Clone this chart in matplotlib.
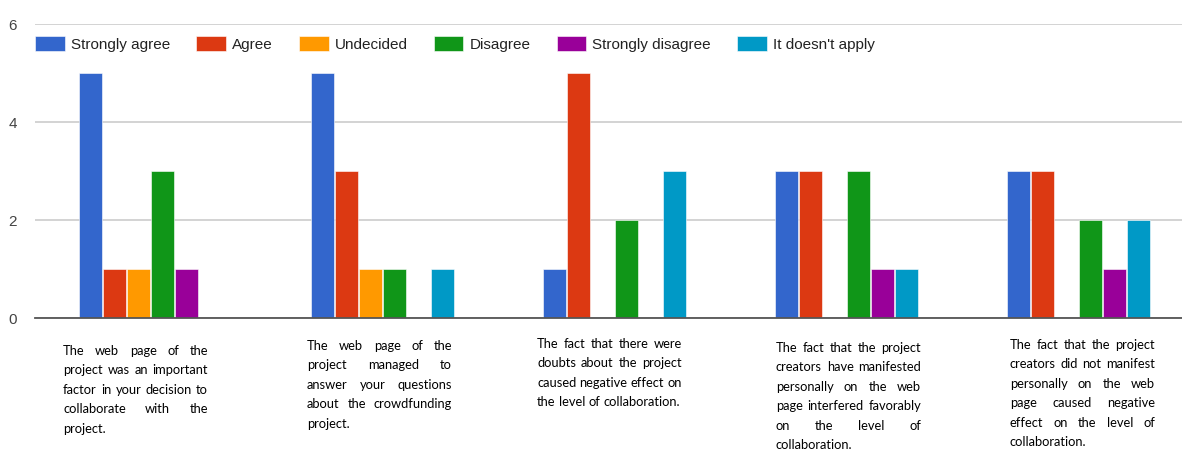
import numpy as np
import matplotlib.pyplot as plt

# Survey answers per statement
categories = ["Strongly agree", "Agree", "Undecided", "Disagree",
              "Strongly disagree", "It doesn't apply"]
colors = ["#3366cc", "#dc3912", "#ff9900", "#109618", "#990099", "#0099c6"]

counts = {
    "Strongly agree":    [5, 5, 1, 3, 3],
    "Agree":             [1, 3, 5, 3, 3],
    "Undecided":         [1, 1, 0, 0, 0],
    "Disagree":          [3, 1, 2, 3, 2],
    "Strongly disagree": [1, 0, 0, 1, 1],
    "It doesn't apply":  [0, 1, 3, 1, 2],
}

# Statement texts, one entry per printed line
statements = [
    ["The web page of the", "project was an important", "factor in your decision to",
     "collaborate with the", "project."],
    ["The web page of the", "project managed to", "answer your questions",
     "about the crowdfunding", "project."],
    ["The fact that there were", "doubts about the project", "caused negative effect on",
     "the level of collaboration."],
    ["The fact that the project", "creators have manifested", "personally on the web",
     "page interfered favorably", "on the level of", "collaboration."],
    ["The fact that the project", "creators did not manifest", "personally on the web",
     "page caused negative", "effect on the level of", "collaboration."],
]

W, H = 1182, 453
fig = plt.figure(figsize=(W / 100, H / 100), dpi=100)
ax = fig.add_axes([35 / W, (H - 318) / H, 1 - 35 / W, 294 / H])

n_groups = len(statements)
x = np.arange(n_groups)
step = 0.1035
for j, cat in enumerate(categories):
    ax.bar(x + (j - 2.5) * step, counts[cat], width=0.099, color=colors[j],
           label=cat, edgecolor="white", linewidth=0.4, zorder=3)

ax.set_xlim(-0.497, 4.447)
ax.set_ylim(0, 6)
ax.set_yticks([0, 2, 4, 6])
ax.set_xticks([])
ax.tick_params(axis="y", length=0, pad=13, labelsize=11, labelcolor="#444444")
for lbl in ax.get_yticklabels():
    lbl.set_fontfamily("Liberation Sans")
ax.grid(axis="y", color="#cccccc", linewidth=1.2, zorder=0)
for s in ["top", "right", "left"]:
    ax.spines[s].set_visible(False)
ax.spines["bottom"].set_color("#555555")
ax.spines["bottom"].set_linewidth(1.3)
ax.spines["bottom"].set_zorder(4)

ax.legend(loc="center left", bbox_to_anchor=(0, (318 - 44) / 294), ncol=6,
          frameon=False, borderaxespad=0, borderpad=0,
          prop={"family": "Liberation Sans", "size": 11},
          labelcolor="#222222", handlelength=1.95, handleheight=1.1,
          handletextpad=0.4, columnspacing=1.7)

# Justified statement blocks under each group
block_left = [63, 307, 537, 776, 1010]
block_top = [351, 346, 344, 348, 345]
block_width = 145
line_step = 19.4
font = {"family": "Lato", "size": 9.3, "color": "#000000"}

renderer = fig.canvas.get_renderer()

def width_px(s):
    t = fig.text(0, 0, s, **font)
    w = t.get_window_extent(renderer).width
    t.remove()
    return w

space_w = width_px("a a") - width_px("aa")

for lines, left, top in zip(statements, block_left, block_top):
    for k, line in enumerate(lines):
        words = line.split()
        widths = [width_px(w) for w in words]
        last = k == len(lines) - 1
        if last or len(words) == 1:
            gap = space_w
        else:
            gap = (block_width - sum(widths)) / (len(words) - 1)
        xp = left
        yp = top + k * line_step
        for w, ww in zip(words, widths):
            fig.text(xp / W, 1 - yp / H, w, ha="left", va="center", **font)
            xp += ww + gap

fig.savefig("out.png", dpi=100)
